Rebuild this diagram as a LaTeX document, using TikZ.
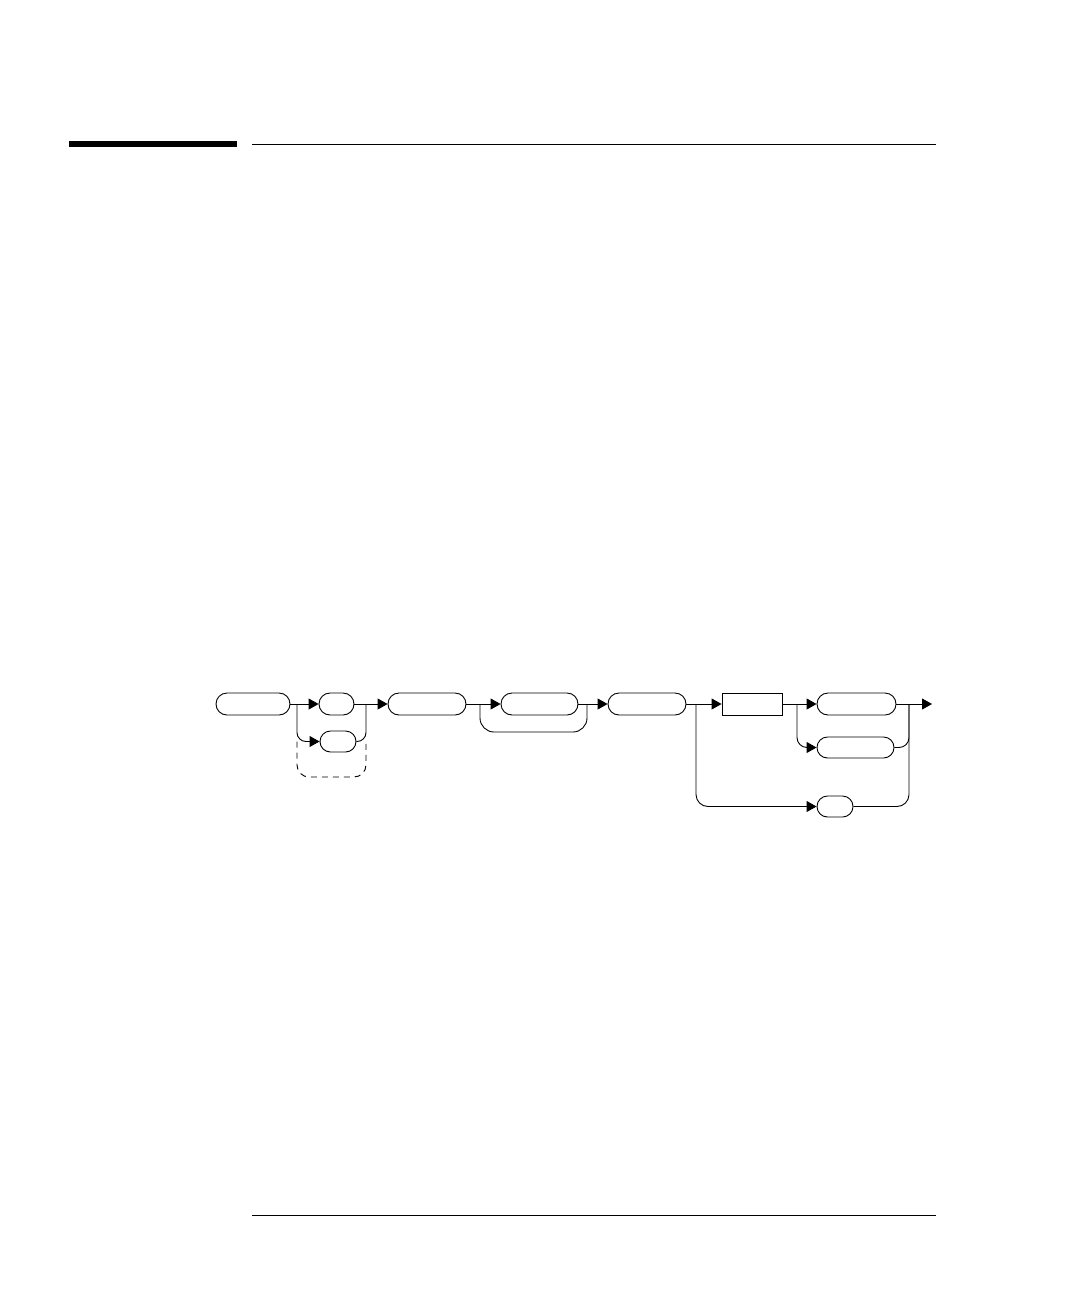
\documentclass[tikz,border=0pt]{standalone}
\usetikzlibrary{arrows.meta,shapes.misc,calc}

\tikzset{
  term/.style={draw, rounded rectangle, line width=0.9pt, minimum height=22, inner sep=0pt},
  blockbox/.style={draw, rectangle, line width=0.9pt, minimum height=22, minimum width=60, inner sep=0pt},
  conn/.style={line width=0.9pt},
  arr/.style={line width=0.9pt, -{Triangle[length=10pt,width=11pt]}}
}

\begin{document}
\begin{tikzpicture}[x=1pt,y=-1pt]
  \useasboundingbox (0,0) rectangle (1080,1296);

  \fill (69,141) rectangle (237,147);
  \draw[line width=0.9pt] (252,144) -- (936,144);
  \draw[line width=0.9pt] (252,1215) -- (936,1215);

  \node[term, minimum width=74] (cmd) at (253,704) {};
  \node[term, minimum width=35] (optA) at (336.5,704) {};
  \node[term, minimum width=36, minimum height=21] (optB) at (338,741.5) {};
  \node[term, minimum width=78] (hdr) at (427,704) {};
  \node[term, minimum width=77] (rep) at (539.5,704) {};
  \node[term, minimum width=78] (mid) at (647,704) {};
  \node[blockbox] (blk) at (752,704) {};
  \node[term, minimum width=79] (outA) at (856.5,704) {};
  \node[term, minimum width=77, minimum height=21] (outB) at (855.5,747.5) {};
  \node[term, minimum width=36, minimum height=21] (alt) at (835,806.5) {};

  \coordinate (s1) at (297,704);
  \coordinate (m1) at (366,704);
  \coordinate (d1) at (297,777);
  \coordinate (l1) at (480,704);
  \coordinate (l2) at (587,704);
  \coordinate (s2) at (696,704);
  \coordinate (s3) at (797,704);
  \coordinate (m2) at (909,704);
  \coordinate (fin) at (932,704);

  \draw[arr] (cmd.east) -- (optA.west);
  \draw[arr, rounded corners=9] (s1) |- (optB.west);
  \draw[conn, dash pattern=on 6pt off 5pt, rounded corners=12] (s1 |- optB) -- (d1) -- (m1 |- d1) -- (m1 |- optB);
  \draw[conn, rounded corners=9] (optB.east) -| (m1);
  \draw[arr] (optA.east) -- (m1) -- (hdr.west);

  \draw[arr] (hdr.east) -- (rep.west);
  \draw[conn, rounded corners=14] (l2) -- ++(0,28) -| (l1);
  \draw[arr] (rep.east) -- (l2) -- (mid.west);

  \draw[arr] (mid.east) -- (blk.west);
  \draw[arr, rounded corners=12] (s2) |- (alt.west);
  \draw[arr] (blk.east) -- (outA.west);
  \draw[arr, rounded corners=10] (s3) |- (outB.west);

  \draw[arr] (outA.east) -- (m2) -- (fin);
  \draw[conn, rounded corners=10] (outB.east) -| (m2);
  \draw[conn, rounded corners=12] (alt.east) -| (m2);
\end{tikzpicture}
\end{document}
